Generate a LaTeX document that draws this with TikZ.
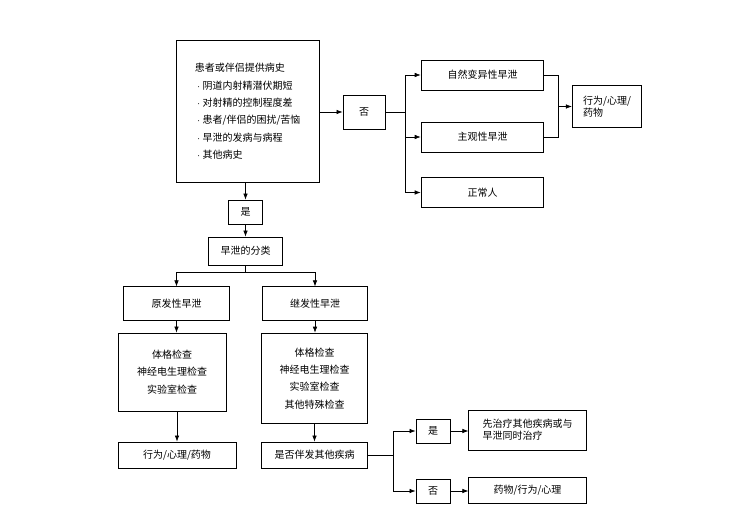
\documentclass[tikz,border=0pt]{standalone}
\usepackage{fontspec}
\setmainfont{Noto Sans CJK SC}
\usetikzlibrary{positioning, arrows.meta, calc}

\begin{document}
\begin{tikzpicture}[
		x=0.75pt, y=-0.75pt,
		box/.style = {
			draw, rectangle, align=center, font=\fontsize{7.5}{9}\selectfont,
			inner sep=0pt, line width=0.6pt
		},
		arrow/.style = {
			-{Latex[length=1.6mm, width=1.2mm]}, line width=0.5pt
		},
		line/.style = {line width=0.5pt}
		]
		\useasboundingbox (0,0) rectangle (750,516);
		
		% Box
		\node[box, minimum width=107pt, minimum height=106.5pt, anchor=north west, align=left] (hist) at (176,40)
			{患者或伴侣提供病史\\[4pt]
			 \ $\cdot$ 阴道内射精潜伏期短\\[4pt]
			 \ $\cdot$ 对射精的控制程度差\\[4pt]
			 \ $\cdot$ 患者/伴侣的困扰/苦恼\\[4pt]
			 \ $\cdot$ 早泄的发病与病程\\[4pt]
			 \ $\cdot$ 其他病史};
		\node[box, minimum width=31.5pt, minimum height=25.5pt] (no) at (364,112) {否};
		\node[box, minimum width=92pt, minimum height=22.5pt] (nat) at (482.5,75) {自然变异性早泄};
		\node[box, minimum width=92pt, minimum height=22.5pt] (sub) at (482.5,137) {主观性早泄};
		\node[box, minimum width=92pt, minimum height=22pt] (norm) at (482.5,192.5) {正常人};
		\node[box, minimum width=52pt, minimum height=31pt, align=left] (treat) at (607,106.5) {行为/心理/\\药物};
		\node[box, minimum width=25pt, minimum height=18pt] (yes) at (245.5,212) {是};
		\node[box, minimum width=56pt, minimum height=21pt] (cls) at (245.5,251) {早泄的分类};
		\node[box, minimum width=79pt, minimum height=25pt] (prim) at (176.5,303.5) {原发性早泄};
		\node[box, minimum width=79pt, minimum height=25pt] (sec) at (315,303.5) {继发性早泄};
		\node[box, minimum width=81pt, minimum height=58.5pt] (exA) at (172,372)
			{体格检查\\[4pt]神经电生理检查\\[4pt]实验室检查};
		\node[box, minimum width=80pt, minimum height=68pt] (exB) at (314.5,378.5)
			{体格检查\\[4pt]神经电生理检查\\[4pt]实验室检查\\[4pt]其他特殊检查};
		\node[box, minimum width=88.5pt, minimum height=19.5pt] (trA) at (177,455) {行为/心理/药物};
		\node[box, minimum width=80pt, minimum height=19.5pt] (other) at (314.5,455) {是否伴发其他疾病};
		\node[box, minimum width=25.5pt, minimum height=18pt] (yes2) at (433,431) {是};
		\node[box, minimum width=25.5pt, minimum height=18pt] (no2) at (433,491) {否};
		\node[box, minimum width=88pt, minimum height=30pt, align=left] (first) at (527.5,430) {先治疗其他疾病或与\\早泄同时治疗};
		\node[box, minimum width=88pt, minimum height=19pt] (drug) at (527.5,490.5) {药物/行为/心理};
		
		% Frecce
		\draw[arrow] (hist.east |- no) -- (no);
		\coordinate (splitA) at (405,112);
		\draw[line] (no) -- (splitA);
		\draw[arrow] (splitA) |- (nat);
		\draw[arrow] (splitA) |- (sub);
		\draw[arrow] (splitA) |- (norm);
		\coordinate (joinA) at (558,106.5);
		\draw[line] (nat) -| (joinA);
		\draw[line] (sub) -| (joinA);
		\draw[arrow] (joinA) -- (treat);
		\draw[arrow] (hist.south -| yes) -- (yes);
		\draw[arrow] (yes) -- (cls);
		\coordinate (splitB) at (245.5,272);
		\draw[line] (cls) -- (splitB);
		\draw[arrow] (splitB) -| (prim);
		\draw[arrow] (splitB) -| (sec);
		\draw[arrow] (prim) -- (prim |- exA.north);
		\draw[arrow] (sec) -- (sec |- exB.north);
		\draw[arrow] (exA.south -| trA) -- (trA);
		\draw[arrow] (exB) -- (other);
		\coordinate (splitC) at (393,455);
		\draw[line] (other) -- (splitC);
		\draw[arrow] (splitC) |- (yes2);
		\draw[arrow] (splitC) |- (no2);
		\draw[arrow] (yes2) -- (first.west |- yes2);
		\draw[arrow] (no2) -- (drug.west |- no2);
		
		\end{tikzpicture}
\end{document}
